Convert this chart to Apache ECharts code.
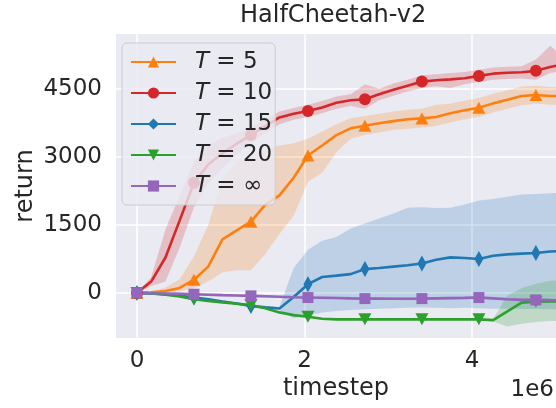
<!DOCTYPE html>
<html><head><meta charset="utf-8">
<script src="https://cdn.jsdelivr.net/npm/echarts@6/dist/echarts.min.js"></script>
<style>html,body{margin:0;padding:0;background:#fff}#c{width:556px;height:408px}</style>
</head><body><div id="c"></div>
<script>
// timestep in units of 1e6
const timesteps = [0,0.17,0.34,0.51,0.68,0.85,1.02,1.19,1.36,1.53,1.70,1.87,2.04,2.21,2.38,2.55,2.72,2.89,3.06,3.23,3.40,3.57,3.74,3.91,4.08,4.25,4.42,4.59,4.76,4.93,5.10];
const xTicks = [0,2,4];
const yTicks = [0,1500,3000,4500];
const seriesNames = ['T = 5','T = 10','T = 15','T = 20','T = \u221e'];

const t5Mean  = [0,15,40,110,290,580,1180,1380,1570,1940,2150,2540,3030,3250,3480,3630,3686,3740,3789,3830,3849,3880,3960,4030,4084,4180,4260,4343,4365,4343,4340];
const t5Lower = [0,0,10,40,100,250,450,500,500,850,1300,1700,2450,2650,3100,3400,3480,3540,3590,3620,3650,3680,3760,3830,3880,3980,4060,4140,4170,4150,4150];
const t5Upper = [0,30,120,300,800,1500,2500,2900,3000,3150,3250,3300,3400,3560,3720,3850,3900,3950,4000,4040,4060,4150,4170,4240,4300,4390,4470,4550,4570,4540,4540];

const t10Mean  = [0,250,780,1600,2430,2830,3080,3290,3480,3680,3870,3950,4010,4090,4195,4250,4270,4380,4480,4570,4660,4690,4710,4735,4786,4835,4855,4865,4897,4980,5050];
const t10Lower = [0,150,250,1000,1890,2400,2750,3050,3300,3520,3720,3820,3880,3960,4060,4120,4060,4250,4350,4440,4520,4560,4520,4600,4650,4700,4720,4730,4700,4850,4900];
const t10Upper = [0,350,1400,2150,2900,3250,3420,3520,3650,3840,4000,4080,4150,4230,4330,4380,4600,4500,4620,4700,4800,4820,4850,4870,4920,4970,4990,5000,5150,5450,5200];

const t15Mean  = [0,-10,-30,-60,-103,-140,-190,-235,-288,-320,-345,-90,192,350,380,414,525,550,580,610,650,730,783,770,746,820,850,865,879,912,930];
const t15Lower = [0,-25,-50,-85,-130,-170,-220,-265,-320,-355,-380,-560,-500,-430,-400,-380,-360,-350,-340,-330,-325,-330,-340,-330,-340,-350,-350,-355,-355,-360,-360];
const t15Upper = [0,5,-10,-35,-75,-110,-160,-205,-255,-285,-310,550,950,1150,1230,1420,1530,1640,1750,1880,1890,1870,1880,1950,2040,2070,2120,2170,2180,2200,2210];

const t20Mean  = [0,-15,-40,-80,-140,-180,-210,-240,-266,-340,-430,-490,-525,-570,-584,-584,-584,-584,-584,-584,-584,-584,-584,-584,-584,-600,-410,-215,-193,-190,-190];
const t20Lower = [0,-30,-55,-95,-155,-195,-225,-255,-281,-355,-445,-505,-540,-585,-599,-599,-599,-599,-599,-599,-599,-599,-599,-599,-599,-630,-740,-680,-640,-620,-620];
const t20Upper = [0,0,-25,-65,-125,-165,-195,-225,-251,-325,-415,-475,-510,-555,-569,-569,-569,-569,-569,-569,-569,-569,-569,-569,-569,-575,-60,100,200,270,280];

const tInfMean  = [0,-8,-15,-22,-30,-40,-50,-58,-66,-75,-85,-95,-103,-108,-113,-120,-126,-126,-128,-130,-126,-120,-115,-110,-103,-120,-140,-155,-155,-160,-162];
const tInfLower = [0,-38,-45,-52,-60,-70,-80,-88,-96,-105,-115,-125,-133,-138,-143,-150,-156,-156,-158,-160,-156,-150,-145,-140,-133,-150,-170,-185,-185,-190,-192];
const tInfUpper = [0,22,15,8,0,-10,-20,-28,-36,-45,-55,-65,-73,-78,-83,-90,-96,-96,-98,-100,-96,-90,-85,-80,-73,-90,-110,-125,-125,-130,-132];

const FONT = '"DejaVu Sans", sans-serif';
const TXT = '#262626';

const groups = [
  {name: seriesNames[0], color:'#ff7f0e', mean:t5Mean,  lo:t5Lower,  hi:t5Upper,  symbol:'triangle', size:[13,12], rotate:0},
  {name: seriesNames[1], color:'#d62728', mean:t10Mean, lo:t10Lower, hi:t10Upper, symbol:'circle',   size:12, rotate:0},
  {name: seriesNames[2], color:'#1f77b4', mean:t15Mean, lo:t15Lower, hi:t15Upper, symbol:'diamond',  size:[9,16], rotate:0},
  {name: seriesNames[3], color:'#2ca02c', mean:t20Mean, lo:t20Lower, hi:t20Upper, symbol:'triangle', size:[13,12], rotate:180},
  {name: seriesNames[4], color:'#9467bd', mean:tInfMean,lo:tInfLower,hi:tInfUpper,symbol:'rect',     size:11, rotate:0}
];

const series = [];
groups.forEach((g) => {
  const bandData = timesteps.map((x,i) => [x, g.lo[i], g.hi[i]]);
  series.push({
    type:'custom', silent:true, clip:true,
    data: bandData,
    encode:{x:0, y:[1,2]},
    renderItem:(params, api) => {
      if (params.dataIndex !== 0) return;
      const up = bandData.map(d => api.coord([d[0], d[2]]));
      const dn = bandData.map(d => api.coord([d[0], d[1]])).reverse();
      return {type:'polygon', shape:{points: up.concat(dn)}, style:{fill:g.color, opacity:0.22}};
    }
  });
  series.push({
    type:'line', name:g.name, color:g.color,
    data: timesteps.map((x,i) => [x, g.mean[i]]),
    symbol:g.symbol, symbolRotate:g.rotate, showAllSymbol:true,
    symbolSize: (v, p) => (p.dataIndex % 4 === 0 ? g.size : 0),
    lineStyle:{width:2.6, color:g.color},
    itemStyle:{color:g.color, borderWidth:0}
  });
});

const chart = echarts.init(document.getElementById('c'), null, {renderer:'canvas'});
chart.setOption({
  animation:false,
  backgroundColor:'#ffffff',
  title:{
    text:'HalfCheetah-v2', left:240, top:4, padding:0,
    textStyle:{fontSize:24, fontWeight:'normal', color:TXT, fontFamily:FONT}
  },
  grid:{left:116, right:0, top:34, bottom:70, show:true, backgroundColor:'#EAEAF2', borderWidth:0, containLabel:false, outerBoundsMode:'none'},
  legend:{
    data: seriesNames,
    orient:'vertical', left:122, top:43,
    padding:[7,3,7,8], itemGap:7, itemWidth:45, itemHeight:14,
    backgroundColor:'rgba(234,234,242,0.8)', borderColor:'#cccccc', borderWidth:1, borderRadius:5,
    formatter: name => '{it|T}{rest|' + name.slice(1) + '}',
    textStyle:{
      fontSize:23, color:TXT, fontFamily:FONT, lineHeight:24,
      rich:{
        it:{fontSize:23, fontStyle:'italic', color:TXT, fontFamily:FONT, padding:[0,0,0,14], lineHeight:24},
        rest:{fontSize:23, color:TXT, fontFamily:FONT, lineHeight:24}
      }
    }
  },
  xAxis:{
    type:'value', min:-0.25, max:5.0,
    axisLine:{show:false},
    axisTick:{show:false, customValues:xTicks},
    axisLabel:{customValues:xTicks, fontSize:23, color:TXT, fontFamily:FONT, margin:12, formatter: v => String(v)},
    splitLine:{show:true, lineStyle:{color:'#ffffff', width:1.5}},
    name:'timestep', nameLocation:'middle', nameGap:39, nameMoveOverlap:false,
    nameTextStyle:{fontSize:24, color:TXT, fontFamily:FONT}
  },
  yAxis:{
    type:'value', min:-995, max:5710,
    axisLine:{show:false},
    axisTick:{show:false, customValues:yTicks},
    axisLabel:{customValues:yTicks, fontSize:23, color:TXT, fontFamily:FONT, margin:14, formatter: v => String(v)},
    splitLine:{show:true, lineStyle:{color:'#ffffff', width:1.5}},
    name:'return', nameLocation:'middle', nameGap:78, nameMoveOverlap:false,
    nameTextStyle:{fontSize:24, color:TXT, fontFamily:FONT}
  },
  graphic:[{
    type:'text', right:2, top:379,
    style:{text:'1e6', font:'23px "DejaVu Sans", sans-serif', fill:TXT}
  }],
  series: series
});
</script>
</body></html>
